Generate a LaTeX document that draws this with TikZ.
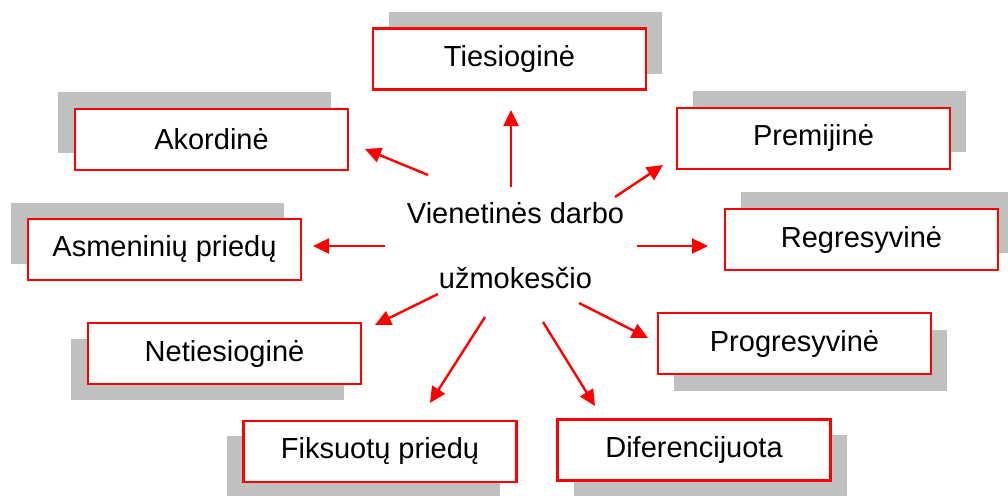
\documentclass[tikz,border=0pt]{standalone}
\usepackage{fontspec}
\setmainfont{Liberation Sans}
\usetikzlibrary{arrows.meta,shadows}
\definecolor{boxred}{RGB}{255,0,0}
\definecolor{shadowgray}{RGB}{192,192,192}
\tikzset{
  kind/.style={draw=boxred, line width=2.3pt, fill=white, minimum width=273pt,
    minimum height=61pt, inner sep=0pt, font=\fontsize{29}{35}\selectfont},
  sh/.style 2 args={general shadow={fill=shadowgray, shadow xshift=#1pt, shadow yshift=#2pt}},
  hubtext/.style={inner sep=0pt, anchor=base, font=\fontsize{29}{35}\selectfont},
  link/.style={draw=boxred, line width=2.4pt, -{Triangle[length=16pt,width=15pt]}},
}
\begin{document}
\begin{tikzpicture}[x=1pt, y=-1pt]
\useasboundingbox (0,0) rectangle (1008,495);

% method boxes, each with its offset grey shadow
\node[kind, sh={16}{16}]   (tiesiogine)  at (509.5,59)  {Tiesioginė};
\node[kind, sh={-17}{17}]  (akordine)    at (211.5,139.5) {Akordinė};
\node[kind, sh={16}{17}]   (premijine)   at (813.5,138.5) {Premijinė};
\node[kind, sh={16}{17}]   (regresyvine) at (861.5,239.5) {Regresyvinė};
\node[kind, sh={-17}{16}]  (asmeniniu)   at (164.5,249.5) {Asmeninių priedų};
\node[kind, sh={-17}{-16}] (netiesiogine) at (224.5,353.5) {Netiesioginė};
\node[kind, sh={16}{-17}]  (progresyvine) at (794.5,343.5) {Progresyvinė};
\node[kind, sh={-17}{-15}] (fiksuotu)    at (380,451.5) {Fiksuotų priedų};
\node[kind, sh={16}{-15}]  (diferencijuota) at (694,450) {Diferencijuota};

% central label
\node[hubtext] (hubA) at (515.5,223) {Vienetinės darbo};
\node[hubtext] (hubB) at (515.5,288) {užmokesčio};

% arrow ends around the central label
\coordinate (s1) at (511,187);  \coordinate (e1) at (511,110);
\coordinate (s2) at (428,175);  \coordinate (e2) at (365,149);
\coordinate (s3) at (615,197);  \coordinate (e3) at (663,165);
\coordinate (s4) at (385,246);  \coordinate (e4) at (313,246);
\coordinate (s5) at (637,246);  \coordinate (e5) at (708,246);
\coordinate (s6) at (438,294);  \coordinate (e6) at (375,325);
\coordinate (s7) at (485,317);  \coordinate (e7) at (430,403);
\coordinate (s8) at (543,322);  \coordinate (e8) at (595,406);
\coordinate (s9) at (579,303);  \coordinate (e9) at (648,338);

\draw[link] (s1) -- (e1);
\draw[link] (s2) -- (e2);
\draw[link] (s3) -- (e3);
\draw[link] (s4) -- (e4);
\draw[link] (s5) -- (e5);
\draw[link] (s6) -- (e6);
\draw[link] (s7) -- (e7);
\draw[link] (s8) -- (e8);
\draw[link] (s9) -- (e9);
\end{tikzpicture}
\end{document}
